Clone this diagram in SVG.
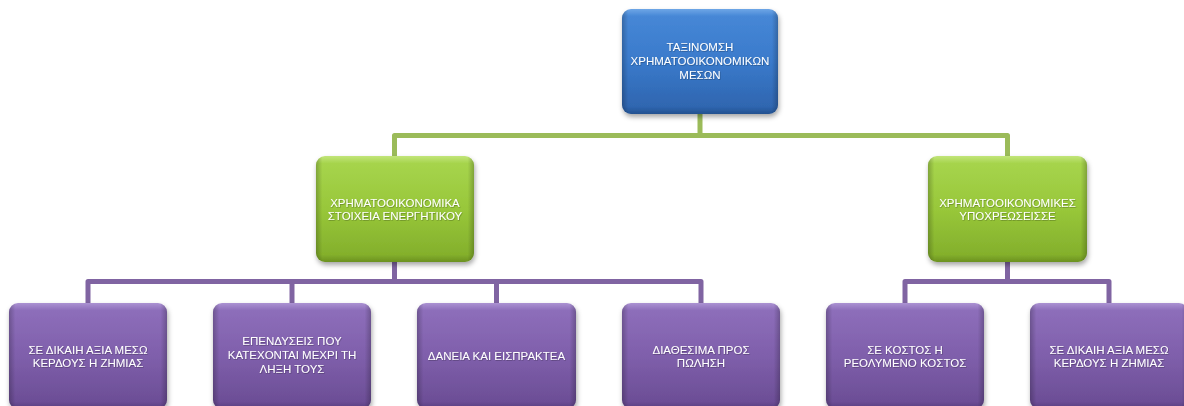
<svg xmlns="http://www.w3.org/2000/svg" width="1184" height="406" viewBox="0 0 1184 406">
  <defs>
    <linearGradient id="gBlue" x1="0" y1="0" x2="0" y2="1">
      <stop offset="0" stop-color="#6ea6e6"/>
      <stop offset="0.07" stop-color="#4687d6"/>
      <stop offset="0.5" stop-color="#3a7acb"/>
      <stop offset="0.93" stop-color="#2f66b0"/>
      <stop offset="1" stop-color="#24518f"/>
    </linearGradient>
    <linearGradient id="gGreen" x1="0" y1="0" x2="0" y2="1">
      <stop offset="0" stop-color="#c2e57a"/>
      <stop offset="0.07" stop-color="#a6d44c"/>
      <stop offset="0.5" stop-color="#98c73a"/>
      <stop offset="0.93" stop-color="#84b02c"/>
      <stop offset="1" stop-color="#6b9120"/>
    </linearGradient>
    <linearGradient id="gPurple" x1="0" y1="0" x2="0" y2="1">
      <stop offset="0" stop-color="#ab92d2"/>
      <stop offset="0.07" stop-color="#8d6eba"/>
      <stop offset="0.5" stop-color="#7f5fab"/>
      <stop offset="0.93" stop-color="#6c4e96"/>
      <stop offset="1" stop-color="#583d7e"/>
    </linearGradient>
    <!-- darker side edges for the bevel look -->
    <linearGradient id="gSides" x1="0" y1="0" x2="1" y2="0">
      <stop offset="0" stop-color="#000" stop-opacity="0.22"/>
      <stop offset="0.04" stop-color="#000" stop-opacity="0"/>
      <stop offset="0.96" stop-color="#000" stop-opacity="0"/>
      <stop offset="1" stop-color="#000" stop-opacity="0.22"/>
    </linearGradient>
    <filter id="shadow" x="-10%" y="-10%" width="125%" height="130%">
      <feDropShadow dx="1" dy="3" stdDeviation="2.5" flood-color="#000" flood-opacity="0.35"/>
    </filter>
    <filter id="tshadow" x="-5%" y="-20%" width="110%" height="150%">
      <feDropShadow dx="0.6" dy="0.8" stdDeviation="0.6" flood-color="#000" flood-opacity="0.3"/>
    </filter>
  </defs>
  <style>
    .conn { fill: none; stroke-width: 5; stroke-linejoin: round; }
    .green-line { stroke: #9bbb59; }
    .purple-line { stroke: #8064a2; }
    .box { filter: url(#shadow); }
    .sides { fill: url(#gSides); }
    .lbl { font-family: "Liberation Sans", Arial, sans-serif; font-size: 11.5px; fill: #ffffff; text-anchor: middle; filter: url(#tshadow); }
  </style>

  <!-- connectors -->
  <g id="connectors">
    <path class="conn green-line" d="M700 112 V135.5 H394.5 V158"/>
    <path class="conn green-line" d="M700 135.5 H1007.5 V158"/>
    <path class="conn purple-line" d="M394.5 260 V281.5 H88 V305"/>
    <path class="conn purple-line" d="M292 281.5 V305"/>
    <path class="conn purple-line" d="M394.5 281.5 H701 V305"/>
    <path class="conn purple-line" d="M496.5 281.5 V305"/>
    <path class="conn purple-line" d="M1007.5 260 V281.5 H905 V305"/>
    <path class="conn purple-line" d="M1007.5 281.5 H1109 V305"/>
  </g>

  <!-- top level -->
  <g id="root">
    <rect class="box" x="622" y="9" width="156" height="105" rx="9" fill="url(#gBlue)"/>
    <rect class="sides" x="622" y="9" width="156" height="105" rx="9"/>
    <text class="lbl" x="700" y="51">ΤΑΞΙΝΟΜΣΗ</text>
    <text class="lbl" x="700" y="65">ΧΡΗΜΑΤΟΟΙΚΟΝΟΜΙΚΩΝ</text>
    <text class="lbl" x="700" y="79">ΜΕΣΩΝ</text>
  </g>

  <!-- second level -->
  <g id="assets">
    <rect class="box" x="316" y="156" width="158" height="106" rx="9" fill="url(#gGreen)"/>
    <rect class="sides" x="316" y="156" width="158" height="106" rx="9"/>
    <text class="lbl" x="395" y="207">ΧΡΗΜΑΤΟΟΙΚΟΝΟΜΙΚΑ</text>
    <text class="lbl" x="395" y="219.5">ΣΤΟΙΧΕΙΑ ΕΝΕΡΓΗΤΙΚΟΥ</text>
  </g>
  <g id="liabilities">
    <rect class="box" x="928" y="156" width="159" height="106" rx="9" fill="url(#gGreen)"/>
    <rect class="sides" x="928" y="156" width="159" height="106" rx="9"/>
    <text class="lbl" x="1007.5" y="207">ΧΡΗΜΑΤΟΟΙΚΟΝΟΜΙΚΕΣ</text>
    <text class="lbl" x="1007.5" y="219.5">ΥΠΟΧΡΕΩΣΕΙΣΣΕ</text>
  </g>

  <!-- third level -->
  <g id="fv-assets">
    <rect class="box" x="9" y="303" width="158" height="106" rx="9" fill="url(#gPurple)"/>
    <rect class="sides" x="9" y="303" width="158" height="106" rx="9"/>
    <text class="lbl" x="88" y="354">ΣΕ ΔΙΚΑΙΗ ΑΞΙΑ ΜΕΣΩ</text>
    <text class="lbl" x="88" y="366.5">ΚΕΡΔΟΥΣ Η ΖΗΜΙΑΣ</text>
  </g>
  <g id="held-to-maturity">
    <rect class="box" x="213" y="303" width="158" height="106" rx="9" fill="url(#gPurple)"/>
    <rect class="sides" x="213" y="303" width="158" height="106" rx="9"/>
    <text class="lbl" x="292" y="345">ΕΠΕΝΔΥΣΕΙΣ ΠΟΥ</text>
    <text class="lbl" x="292" y="359">ΚΑΤΕΧΟΝΤΑΙ ΜΕΧΡΙ ΤΗ</text>
    <text class="lbl" x="292" y="373">ΛΗΞΗ ΤΟΥΣ</text>
  </g>
  <g id="loans">
    <rect class="box" x="417" y="303" width="159" height="106" rx="9" fill="url(#gPurple)"/>
    <rect class="sides" x="417" y="303" width="159" height="106" rx="9"/>
    <text class="lbl" x="496.5" y="360">ΔΑΝΕΙΑ ΚΑΙ ΕΙΣΠΡΑΚΤΕΑ</text>
  </g>
  <g id="available-for-sale">
    <rect class="box" x="622" y="303" width="158" height="106" rx="9" fill="url(#gPurple)"/>
    <rect class="sides" x="622" y="303" width="158" height="106" rx="9"/>
    <text class="lbl" x="701" y="354">ΔΙΑΘΕΣΙΜΑ ΠΡΟΣ</text>
    <text class="lbl" x="701" y="366.5">ΠΩΛΗΣΗ</text>
  </g>
  <g id="amortised-cost">
    <rect class="box" x="826" y="303" width="158" height="106" rx="9" fill="url(#gPurple)"/>
    <rect class="sides" x="826" y="303" width="158" height="106" rx="9"/>
    <text class="lbl" x="905" y="354">ΣΕ ΚΟΣΤΟΣ Η</text>
    <text class="lbl" x="905" y="366.5">ΡΕΟΛΥΜΕΝΟ ΚΟΣΤΟΣ</text>
  </g>
  <g id="fv-liabilities">
    <rect class="box" x="1030" y="303" width="158" height="106" rx="9" fill="url(#gPurple)"/>
    <rect class="sides" x="1030" y="303" width="158" height="106" rx="9"/>
    <text class="lbl" x="1109" y="354">ΣΕ ΔΙΚΑΙΗ ΑΞΙΑ ΜΕΣΩ</text>
    <text class="lbl" x="1109" y="366.5">ΚΕΡΔΟΥΣ Η ΖΗΜΙΑΣ</text>
  </g>
</svg>
